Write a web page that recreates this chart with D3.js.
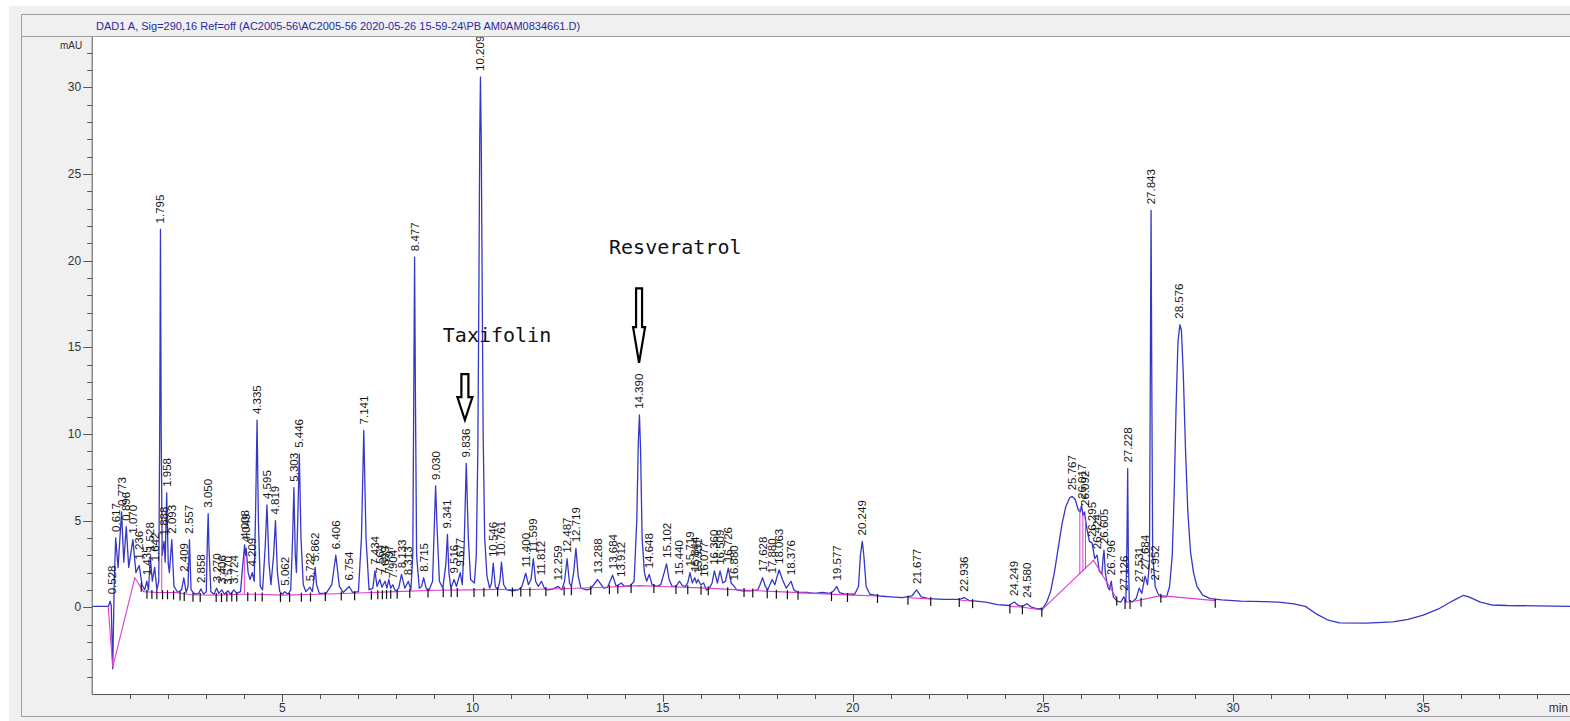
<!DOCTYPE html>
<html><head><meta charset="utf-8">
<script src="https://cdn.jsdelivr.net/npm/d3@7"></script>
<style>body{margin:0;background:#fff;overflow:hidden} svg{display:block}</style>
</head><body><svg id="c" width="1570" height="721"></svg>
<script>
// ---------------- DATA ----------------
const headerText = "DAD1 A, Sig=290,16 Ref=off (AC2005-56\\AC2005-56 2020-05-26 15-59-24\\PB AM0AM0834661.D)";
const yUnit = "mAU";
const xUnit = "min";
const xTickLabels = [5, 10, 15, 20, 25, 30, 35];
const yTickLabels = [0, 5, 10, 15, 20, 25, 30];

// detector trace: [retention time (min), signal (mAU)]
const traceEarly = [
 [0,0.05],[0.43,0.05],[0.47,0.35],[0.5,0.1],[0.54,-3.55],[0.58,1.5],[0.617,4.0],[0.68,2.3],[0.773,5.5],[0.83,2.6],[0.896,4.65],[0.96,2.3],
 [1.07,3.9],[1.15,2.0],[1.236,2.4],[1.31,1.3],[1.38,1.0],[1.435,1.5],[1.48,1.0],[1.528,2.9],[1.58,1.5],[1.642,2.3],[1.7,1.0],[1.75,1.5],
 [1.775,10],[1.795,21.8],[1.815,10],[1.84,3.0],[1.888,3.8],[1.92,2.6],[1.958,6.6],[2.0,2.5],[2.03,2.0],[2.093,3.9],[2.15,1.2],[2.25,0.85],
 [2.35,1.0],[2.409,1.7],[2.47,0.85],[2.52,1.2],[2.557,3.9],[2.6,1.0],[2.7,0.75],[2.8,0.8],[2.858,1.05],[2.93,0.75],[3.0,0.9],[3.03,4.0],
 [3.05,5.4],[3.07,3.5],[3.12,0.9],[3.2,0.75],[3.27,1.1],[3.33,0.8],[3.406,1.0],[3.48,0.75],[3.57,0.95],[3.64,0.75],[3.724,1.0],[3.8,0.8],
 [3.9,0.9],[3.95,2.2],[4.008,3.6],[4.03,3.0],[4.049,3.4],[4.1,2.0],[4.15,1.6],[4.209,2.0],[4.26,1.5],[4.3,6.0],[4.335,10.8],[4.37,5.0],
 [4.42,1.2],[4.48,1.0],[4.55,3.5],[4.595,5.9],[4.65,2.5],[4.7,1.3],[4.77,3.0],[4.819,5.0],[4.87,2.0],[4.93,0.9],[5.0,0.75],[5.062,0.9],
 [5.15,0.75],[5.22,1.0],[5.27,4.0],[5.303,6.9],[5.34,3.0],[5.37,2.0],[5.41,5.5],[5.446,8.85],[5.49,4.0],[5.55,1.3],[5.62,0.9],[5.722,1.15],
 [5.79,0.9],[5.83,1.6],[5.862,2.3],[5.9,1.3],[5.97,0.8],[6.15,0.8],[6.3,1.3],[6.406,3.0],[6.5,1.2],[6.6,0.85],[6.754,1.2],[6.85,0.85],
 [7.0,0.9],[7.08,4.0],[7.141,10.2],[7.2,4.0],[7.28,1.0],[7.38,1.1],[7.434,2.1],[7.49,1.2],[7.564,1.6],[7.62,1.15],[7.699,1.5],[7.75,1.1],
 [7.797,1.6],[7.85,1.1],[7.904,1.3],[7.98,0.9],[8.06,1.1],[8.133,1.9],[8.22,1.1],[8.313,1.5],[8.38,1.0],[8.43,3.0],[8.455,12],[8.477,20.2],
 [8.5,12],[8.53,3.0],[8.6,1.1],[8.66,1.2],[8.715,1.7],[8.78,1.1],[8.85,0.95],[8.95,1.5],[9.0,5.0],[9.03,7.0],[9.07,4.5],[9.13,1.5],
 [9.22,1.1],[9.3,2.5],[9.341,4.2],[9.38,2.0],[9.43,1.1],[9.516,1.6],[9.58,1.2],[9.677,2.0],[9.73,1.3],[9.78,3.5],[9.836,8.3],[9.89,4.0],
 [9.95,1.6],[10.05,1.4],[10.1,3.0],[10.14,9],[10.17,19],[10.19,27],[10.209,30.6],[10.23,27],[10.25,20],[10.28,10],[10.32,4],[10.38,1.8],
 [10.45,1.1],[10.5,1.4],[10.546,2.55],[10.6,1.2],[10.66,1.0],[10.72,1.5],[10.761,2.6],[10.82,1.3],[10.9,1.0]
];
const traceMiddle = [
 [11.05,0.95],[11.2,1.0],[11.3,1.2],[11.4,1.96],[11.47,1.3],[11.54,1.6],[11.599,2.8],[11.66,1.5],[11.73,1.2],[11.812,1.5],[11.9,1.05],
 [12.0,1.0],[12.1,1.05],[12.259,1.2],[12.35,1.0],[12.42,1.5],[12.487,2.8],[12.55,1.4],[12.6,1.2],[12.66,2.0],[12.719,3.4],[12.78,1.8],
 [12.85,1.1],[13.0,1.0],[13.1,1.05],[13.288,1.6],[13.45,1.1],[13.55,1.15],[13.684,1.85],[13.78,1.2],[13.912,1.4],[14.0,1.2],[14.15,1.25],
 [14.25,1.5],[14.32,5.0],[14.36,9.5],[14.39,11.1],[14.42,9.0],[14.46,4.0],[14.52,2.0],[14.58,1.5],[14.648,1.9],[14.72,1.3],[14.85,1.2],
 [14.95,1.3],[15.04,2.0],[15.102,2.5],[15.17,1.6],[15.25,1.2],[15.35,1.2],[15.44,1.5],[15.52,1.25],[15.6,1.2],[15.66,1.4],[15.719,2.0],
 [15.78,1.4],[15.844,1.7],[15.89,1.4],[15.931,1.6],[16.0,1.3],[16.077,1.4],[16.15,1.0],[16.22,1.05],[16.3,1.4],[16.36,2.1],[16.44,1.4],
 [16.509,2.1],[16.58,1.4],[16.65,1.5],[16.726,2.25],[16.8,1.4],[16.88,1.2],[16.95,1.0],[17.1,0.95],[17.3,0.95],[17.5,1.0],[17.56,1.3],
 [17.628,1.7],[17.7,1.2],[17.76,1.0],[17.88,1.6],[17.95,1.3],[18.0,1.7],[18.063,2.15],[18.15,1.6],[18.25,1.1],[18.376,1.5],[18.45,1.0],
 [18.55,0.85],[18.8,0.85],[19.0,0.8],[19.2,0.85],[19.4,0.8],[19.5,0.95],[19.577,1.2],[19.65,0.85],[19.8,0.75],[20.05,0.75],[20.15,1.2],
 [20.2,3.0],[20.249,3.8],[20.29,3.0],[20.35,1.2],[20.45,0.75],[20.7,0.65],[21.0,0.6],[21.3,0.55],[21.55,0.65],[21.677,1.0],[21.8,0.6],
 [22.0,0.5],[22.4,0.45],[22.8,0.45],[22.936,0.55],[23.05,0.4],[23.5,0.3],[23.8,0.15],[24.1,0.1],[24.249,0.3],[24.35,0.1],[24.46,0.05],
 [24.58,0.2],[24.7,0.0],[24.85,-0.1],[25.0,-0.05]
];
const traceLate = [
 [25.1,0.3],[25.2,0.9],[25.3,2.0],[25.4,3.4],[25.5,4.8],[25.6,5.8],[25.7,6.3],[25.767,6.4],[25.85,6.2],[25.93,5.6],[25.98,5.5],[26.017,5.9],
 [26.05,5.3],[26.092,5.5],[26.15,4.6],[26.22,3.8],[26.295,3.7],[26.36,2.8],[26.424,3.0],[26.48,2.1],[26.55,1.9],[26.58,2.8],[26.605,3.3],
 [26.64,2.0],[26.7,1.2],[26.75,1.0],[26.796,1.5],[26.85,0.6],[26.95,0.35],[27.05,0.3],[27.126,0.6],[27.18,0.3],[27.21,4.0],[27.228,8.0],
 [27.245,3.0],[27.27,0.4],[27.35,0.3],[27.45,0.5],[27.531,1.1],[27.6,0.8],[27.684,1.8],[27.75,1.3],[27.8,2.5],[27.825,14],[27.843,22.9],
 [27.86,14],[27.885,3.0],[27.952,1.2],[28.02,0.8],[28.1,0.6],[28.25,0.6],[28.33,1.2],[28.4,3.0],[28.45,6.5],[28.5,11.5],[28.55,15.3],
 [28.6,16.3],[28.64,16.0],[28.69,13.5],[28.75,9.0],[28.81,5.5],[28.88,3.2],[28.96,2.0],[29.05,1.2],[29.2,0.7],[29.4,0.5],[29.7,0.42],
 [30.2,0.35],[30.8,0.32],[31.2,0.3],[31.6,0.2],[31.9,0.05],[32.2,-0.4],[32.5,-0.75],[32.8,-0.9],[33.5,-0.92],[34.2,-0.85],[34.6,-0.7],
 [35.0,-0.45],[35.4,-0.1],[35.8,0.4],[36.05,0.68],[36.2,0.6],[36.5,0.3],[36.8,0.13],[37.2,0.1],[38.0,0.08],[39.0,0.05]
];

// peak annotations: [retention time label, apex mAU]
const peakLabels = [
 [0.528,0.4],[0.617,4.0],[0.773,5.5],[0.896,4.65],[1.070,3.9],[1.236,2.4],[1.435,1.5],[1.528,2.9],[1.642,2.3],[1.795,21.8],[1.888,3.8],
 [1.958,6.6],[2.093,3.9],[2.409,1.7],[2.557,3.9],[2.858,1.05],[3.050,5.4],[3.270,1.1],[3.406,1.0],[3.570,0.95],[3.724,1.0],[4.008,3.6],
 [4.049,3.4],[4.209,2.0],[4.335,10.8],[4.595,5.9],[4.819,5.0],[5.062,0.9],[5.303,6.9],[5.446,8.85],[5.722,1.15],[5.862,2.3],[6.406,3.0],
 [6.754,1.2],[7.141,10.2],[7.434,2.1],[7.564,1.6],[7.699,1.5],[7.797,1.6],[7.904,1.3],[8.133,1.9],[8.313,1.5],[8.477,20.2],[8.715,1.7],
 [9.030,7.0],[9.341,4.2],[9.516,1.6],[9.677,2.0],[9.836,8.3],[10.209,30.6],[10.546,2.55],[10.761,2.6],[11.400,1.96],[11.599,2.8],
 [11.812,1.5],[12.259,1.2],[12.487,2.8],[12.719,3.4],[13.288,1.6],[13.684,1.85],[13.912,1.4],[14.390,11.1],[14.648,1.9],[15.102,2.5],
 [15.440,1.5],[15.719,2.0],[15.844,1.7],[15.931,1.6],[16.077,1.4],[16.360,2.1],[16.509,2.1],[16.726,2.25],[16.880,1.2],[17.628,1.7],
 [17.880,1.6],[18.063,2.15],[18.376,1.5],[19.577,1.2],[20.249,3.8],[21.677,1.0],[22.936,0.55],[24.249,0.3],[24.580,0.2],[25.767,6.4],
 [26.017,5.9],[26.092,5.5],[26.295,3.7],[26.424,3.0],[26.605,3.3],[26.796,1.5],[27.126,0.6],[27.228,8.0],[27.531,1.1],[27.684,1.8],
 [27.843,22.9],[27.952,1.2],[28.576,16.3]
];

// integration baseline segments [time, mAU]
const baselineSegments = [
 [[0.42,0.05],[0.54,-3.45],[1.12,1.7],[1.35,0.9],[1.75,0.85],[2.2,0.85],[2.6,0.72],[3.3,0.7],[3.9,0.75],[4.3,0.75],[5.0,0.7],[6.0,0.75],
  [7.0,0.82],[8.0,0.9],[9.0,0.98],[10.0,1.0],[10.66,1.03]],
 [[10.66,1.03],[11.5,1.02],[12.5,1.08],[13.5,1.15],[14.39,1.25],[15.0,1.2],[16.0,1.12],[17.0,1.0],[18.0,0.9],[19.0,0.8],[20.0,0.7],[20.65,0.65]],
 [[21.45,0.55],[22.05,0.48]],
 [[22.8,0.42],[23.15,0.35]],
 [[24.13,0.05],[24.46,0.0],[24.97,-0.15],[26.33,2.7],[26.94,0.5]],
 [[27.16,0.3],[27.29,0.3]],
 [[27.4,0.35],[28.1,0.67],[29.53,0.38]]
];
// baseline drop lines [time, from mAU, to mAU]
const dropLines = [[1.83,0.88,3.6],[4.0,0.75,3.0],[25.97,1.9,5.7],[26.05,2.05,5.4],[26.12,2.2,5.0]];
// peak start/stop marks [time, mAU]
const integrationMarks = [
 [1.29,1.3],[1.44,0.9],[1.57,0.88],[1.70,0.86],[1.85,0.86],[1.98,0.86],[2.14,0.85],[2.31,0.8],[2.42,0.76],[2.65,0.72],[2.84,0.71],
 [3.26,0.7],[3.40,0.71],[3.54,0.72],[3.67,0.73],[3.80,0.74],[4.09,0.75],[4.29,0.75],[4.47,0.74],[4.95,0.7],[5.19,0.71],[5.50,0.72],
 [5.74,0.73],[6.13,0.76],[6.55,0.79],[6.90,0.81],[7.34,0.84],[7.51,0.86],[7.63,0.87],[7.74,0.88],[7.85,0.89],[8.02,0.9],[8.35,0.93],
 [8.83,0.97],[9.23,0.98],[9.44,0.99],[9.60,0.99],[10.04,1.0],[10.30,1.01],[10.66,1.03],[11.05,1.02],[11.27,1.02],[11.51,1.02],
 [11.93,1.05],[12.41,1.08],[12.60,1.09],[13.11,1.12],[13.60,1.16],[13.82,1.18],[14.17,1.22],[14.77,1.22],[15.35,1.17],[15.66,1.15],
 [16.01,1.12],[16.20,1.1],[16.71,1.04],[17.14,0.99],[17.37,0.96],[17.75,0.92],[17.99,0.9],[18.28,0.87],[18.56,0.84],[19.44,0.76],
 [19.86,0.71],[20.65,0.65],[21.45,0.55],[22.05,0.48],[22.80,0.42],[23.15,0.35],[24.13,0.05],[24.46,0.0],[24.97,-0.15],[26.94,0.5],
 [27.16,0.3],[27.29,0.3],[27.58,0.43],[28.10,0.67],[29.53,0.38]
];

// hand-drawn compound annotations
const compoundNames = ["Taxifolin", "Resveratrol"];
const compoundTextAnchor = [[9.22, 15.3], [13.59, 20.4]];      // [min, mAU] text start / baseline
const compoundArrowTime = [9.80, 14.38];
const compoundArrowTop = [13.45, 18.4];
const compoundArrowTip = [10.8, 14.1];

// ---------------- DRAW ----------------
const W = 1570, H = 721;
const svg = d3.select("#c");
const plotL = 92.2, plotR = W, plotT = 37, plotB = 694;
const pxPerMin = 38.03;
const x = d3.scaleLinear().domain([0, (plotR - plotL) / pxPerMin]).range([plotL, plotR]);
const y = d3.scaleLinear().domain([-5, 33]).range([693.9, 35.3]);

// backgrounds
svg.append("rect").attr("x",0).attr("y",0).attr("width",W).attr("height",H).attr("fill","#ffffff");
svg.append("rect").attr("x",9).attr("y",6).attr("width",W).attr("height",H).attr("fill","#f0f0f0");
svg.append("rect").attr("x",21.5).attr("y",14.5).attr("width",W).attr("height",702).attr("fill","#f0f0f0")
  .attr("stroke","#a0a0a0").attr("stroke-width",1);
svg.append("line").attr("x1",21).attr("x2",W).attr("y1",36.5).attr("y2",36.5).attr("stroke","#a0a0a0");
svg.append("rect").attr("x",plotL).attr("y",plotT).attr("width",W-plotL).attr("height",plotB-plotT).attr("fill","#ffffff");

svg.append("text").attr("x",96).attr("y",30).attr("font-family","Liberation Sans, Arial, sans-serif")
  .attr("font-size",11).attr("fill","#2a2aa0").text(headerText);

const defs = svg.append("defs");
defs.append("clipPath").attr("id","plotclip").append("rect")
  .attr("x",plotL).attr("y",plotT).attr("width",W-plotL).attr("height",plotB-plotT);

const plot = svg.append("g").attr("clip-path","url(#plotclip)");
const line = d3.line().x(d => x(d[0])).y(d => y(d[1]));
const fullTrace = traceEarly.concat(traceMiddle, traceLate);

plot.append("path").datum(fullTrace).attr("d", line).attr("fill","none")
  .attr("stroke","#3636c8").attr("stroke-width",1.3).attr("stroke-linejoin","round");

// integration baseline
baselineSegments.forEach(seg => {
  plot.append("path").datum(seg).attr("d", line).attr("fill","none")
    .attr("stroke","#e03cd2").attr("stroke-width",1.1);
});
plot.selectAll("line.drop").data(dropLines).join("line").attr("class","drop")
  .attr("x1",d=>x(d[0])).attr("x2",d=>x(d[0])).attr("y1",d=>y(d[1])).attr("y2",d=>y(d[2]))
  .attr("stroke","#e03cd2").attr("stroke-width",1);

plot.selectAll("line.mark").data(integrationMarks).join("line").attr("class","mark")
  .attr("x1",d=>x(d[0])).attr("x2",d=>x(d[0])).attr("y1",d=>y(d[1])-2).attr("y2",d=>y(d[1])+7)
  .attr("stroke","#111").attr("stroke-width",1.2);

// peak labels
plot.selectAll("text.pk").data(peakLabels).join("text").attr("class","pk")
  .attr("transform", d => `translate(${x(d[0])},${y(d[1]) - 6}) rotate(-90)`)
  .attr("dy","0.35em").attr("text-anchor","start")
  .attr("font-family","Liberation Sans, Arial, sans-serif").attr("font-size",11.5).attr("fill","#151515")
  .text(d => d[0].toFixed(3));

// arrows & names
compoundNames.forEach((name, i) => {
  const cx = x(compoundArrowTime[i]);
  const yT = y(compoundArrowTop[i]), yTip = y(compoundArrowTip[i]);
  const len = yTip - yT;
  const sw = i === 0 ? 7 : 6, hw = i === 0 ? 15 : 12;
  const yS = yT + len * (i === 0 ? 0.5 : 0.52);
  const p = `M${cx-sw/2},${yT} L${cx+sw/2},${yT} L${cx+sw/2},${yS} L${cx+hw/2},${yS} L${cx},${yTip} L${cx-hw/2},${yS} L${cx-sw/2},${yS} Z`;
  plot.append("path").attr("d",p).attr("fill","#fff").attr("stroke","#000").attr("stroke-width",2.2).attr("stroke-linejoin","miter");
  plot.append("text").attr("x", x(compoundTextAnchor[i][0])).attr("y", y(compoundTextAnchor[i][1]))
    .attr("font-family","DejaVu Sans Mono, monospace").attr("font-size",20).attr("fill","#111").text(name);
});

// axes
const axisColor = "#555";
svg.append("line").attr("x1",plotL).attr("x2",plotL).attr("y1",plotT).attr("y2",plotB).attr("stroke",axisColor);
svg.append("line").attr("x1",plotL).attr("x2",W).attr("y1",plotB+0.5).attr("y2",plotB+0.5).attr("stroke",axisColor);

const yTicks = d3.range(-4, 33);
svg.selectAll("line.yt").data(yTicks).join("line").attr("class","yt")
  .attr("x1", d => yTickLabels.includes(d) ? plotL - 9 : plotL - 5).attr("x2", plotL)
  .attr("y1", d => Math.round(y(d)) + 0.5).attr("y2", d => Math.round(y(d)) + 0.5).attr("stroke",axisColor);
svg.selectAll("text.yl").data(yTickLabels).join("text").attr("class","yl")
  .attr("x", plotL - 11).attr("y", d => y(d)).attr("dy","0.35em").attr("text-anchor","end")
  .attr("font-family","Liberation Sans, Arial, sans-serif").attr("font-size",12).attr("fill","#333").text(d => d);
svg.append("text").attr("x", plotL - 10).attr("y", 45).attr("dy","0.35em").attr("text-anchor","end")
  .attr("font-family","Liberation Sans, Arial, sans-serif").attr("font-size",10).attr("fill","#333").text(yUnit);

const xTicks = d3.range(1, 39);
svg.selectAll("line.xt").data(xTicks).join("line").attr("class","xt")
  .attr("x1", d => Math.round(x(d)) + 0.5).attr("x2", d => Math.round(x(d)) + 0.5)
  .attr("y1", plotB).attr("y2", d => xTickLabels.includes(d) ? plotB + 8 : plotB + 5).attr("stroke",axisColor);
svg.selectAll("text.xl").data(xTickLabels).join("text").attr("class","xl")
  .attr("x", d => x(d)).attr("y", 712).attr("text-anchor","middle")
  .attr("font-family","Liberation Sans, Arial, sans-serif").attr("font-size",12).attr("fill","#333").text(d => d);
svg.append("text").attr("x", 1568).attr("y", 712).attr("text-anchor","end")
  .attr("font-family","Liberation Sans, Arial, sans-serif").attr("font-size",12).attr("fill","#333").text(xUnit);
</script>
</body></html>
